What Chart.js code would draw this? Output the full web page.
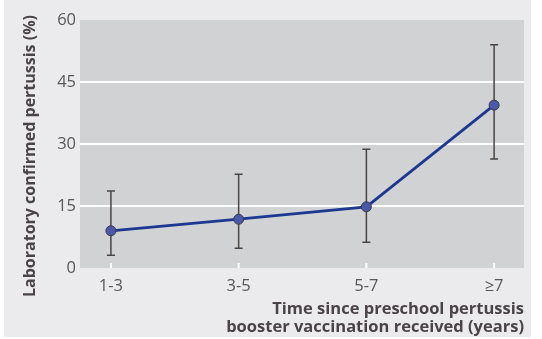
<!DOCTYPE html>
<html>
<head>
<meta charset="utf-8">
<script src="https://cdn.jsdelivr.net/npm/chart.js@4"></script>
<style>
  body { margin: 0; background: #fff; }
  #wrap { position: absolute; left: 4px; top: 0; width: 527px; height: 337px; background: #ebebed; }
</style>
</head>
<body>
<div id="wrap"><canvas id="myChart" width="527" height="337"></canvas></div>
<script>
// data
const categories = ['1-3', '3-5', '5-7', '≥7'];
const rates = [9.0, 11.8, 14.8, 39.4];
const lower = [3.1, 4.8, 6.2, 26.4];
const upper = [18.6, 22.7, 28.7, 54.0];
const yTicks = [0, 15, 30, 45, 60];

const yTitle = 'Laboratory confirmed pertussis (%)';
const xTitle = ['Time since preschool pertussis', 'booster vaccination received (years)'];

const tickFont = { family: 'Open Sans', size: 16.5 };

// grey plot area, error bars, small white ticks and the axis titles
const decorations = {
    id: 'decorations',
    beforeDraw(chart) {
        const { ctx, chartArea: a } = chart;
        ctx.save();
        ctx.fillStyle = '#d1d2d4';
        ctx.fillRect(a.left, a.top, a.right - a.left, a.bottom - a.top);
        ctx.restore();
    },
    beforeDatasetsDraw(chart) {
        const { ctx, chartArea: a } = chart;
        const x = chart.scales.x, y = chart.scales.y;
        ctx.save();
        // white category ticks at the bottom of the plot
        ctx.strokeStyle = '#ffffff';
        ctx.lineWidth = 2;
        categories.forEach((c, i) => {
            const px = x.getPixelForValue(i);
            ctx.beginPath();
            ctx.moveTo(px, a.bottom - 5);
            ctx.lineTo(px, a.bottom);
            ctx.stroke();
        });
        // error bars
        ctx.strokeStyle = '#4a4544';
        ctx.lineWidth = 1.5;
        categories.forEach((c, i) => {
            const px = x.getPixelForValue(i);
            const yl = y.getPixelForValue(lower[i]);
            const yu = y.getPixelForValue(upper[i]);
            ctx.beginPath();
            ctx.moveTo(px, yl); ctx.lineTo(px, yu);
            ctx.moveTo(px - 4, yl); ctx.lineTo(px + 4, yl);
            ctx.moveTo(px - 4, yu); ctx.lineTo(px + 4, yu);
            ctx.stroke();
        });
        ctx.restore();
    },
    afterDraw(chart) {
        const { ctx } = chart;
        ctx.save();
        ctx.fillStyle = '#4a4446';
        ctx.textBaseline = 'middle';
        // y title
        ctx.font = 'bold 16px "Open Sans"';
        ctx.translate(26, 156);
        ctx.rotate(-Math.PI / 2);
        ctx.textAlign = 'center';
        ctx.fillText(yTitle, 0, 0);
        ctx.setTransform(1, 0, 0, 1, 0, 0);
        // x title, right aligned, two lines
        ctx.font = 'bold 16.5px "Open Sans"';
        ctx.textAlign = 'right';
        ctx.fillText(xTitle[0], 520, 309);
        ctx.fillText(xTitle[1], 520, 327);
        ctx.restore();
    }
};

new Chart(document.getElementById('myChart').getContext('2d'), {
    type: 'line',
    data: {
        datasets: [{
            label: 'Laboratory confirmed pertussis',
            data: rates.map((v, i) => ({ x: i, y: v })),
            borderColor: '#1c3890',
            borderWidth: 2.8,
            pointRadius: 5,
            pointBackgroundColor: '#4b57a8',
            pointBorderColor: '#3a3a48',
            pointBorderWidth: 1,
            fill: false,
            tension: 0
        }]
    },
    options: {
        responsive: false,
        animation: false,
        layout: { padding: { top: 20, right: 7, left: 0, bottom: 0 } },
        plugins: { legend: { display: false }, tooltip: { enabled: false } },
        scales: {
            x: {
                type: 'linear',
                min: -0.242,
                max: 3.234,
                afterBuildTicks(scale) {
                    scale.ticks = categories.map((c, i) => ({ value: i }));
                },
                afterFit(scale) { scale.height = 69; },
                grid: { display: false },
                border: { display: false },
                ticks: {
                    callback: (v) => categories[v],
                    font: tickFont,
                    color: '#58585a',
                    padding: 0,
                    maxRotation: 0
                }
            },
            y: {
                min: 0,
                max: 60,
                afterBuildTicks(scale) {
                    scale.ticks = yTicks.map(v => ({ value: v }));
                },
                afterFit(scale) { scale.width = 76; },
                grid: {
                    drawTicks: false,
                    lineWidth: 2,
                    color: (c) => (c.tick.value === 0 || c.tick.value === 60) ? 'rgba(0,0,0,0)' : '#ffffff'
                },
                border: { display: false },
                ticks: {
                    font: tickFont,
                    color: '#58585a',
                    padding: 4
                }
            }
        }
    },
    plugins: [decorations]
});
</script>
</body>
</html>
